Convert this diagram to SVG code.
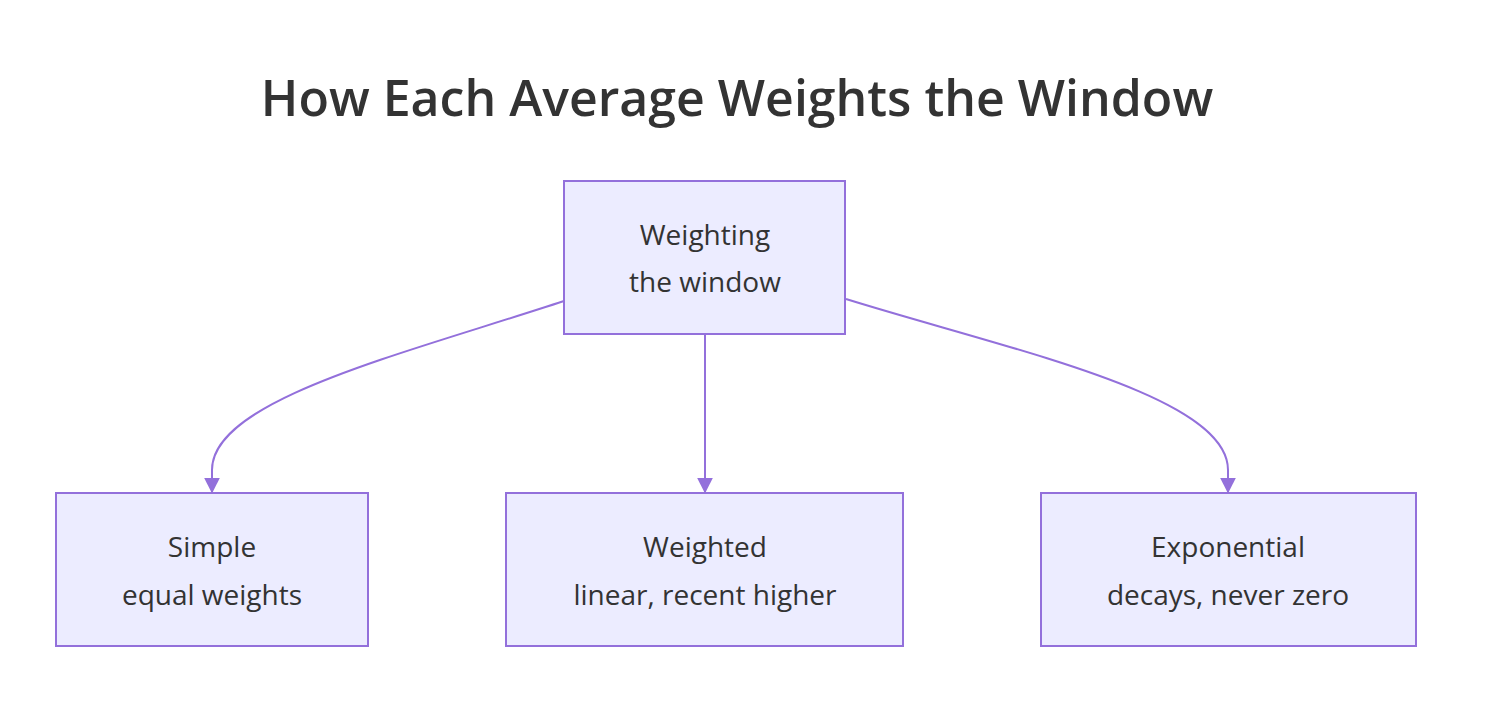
<svg xmlns="http://www.w3.org/2000/svg" width="1488" height="710" viewBox="0 0 1488 710">
<style>
.n{fill:#ECECFF;stroke:#9370DB;stroke-width:2}
.t{font-family:"Open Sans","Liberation Sans",sans-serif;font-size:28px;fill:#333;text-anchor:middle}
.e{fill:none;stroke:#9370DB;stroke-width:2}
</style>
<defs><marker id="a" viewBox="0 0 10 10" refX="9" refY="5" markerWidth="8" markerHeight="8" orient="auto"><path d="M0,0L10,5L0,10z" fill="#9370DB"/></marker></defs>
<rect width="1488" height="710" fill="#fff"/>
<text x="737" y="116" font-family="'Open Sans','Liberation Sans',sans-serif" font-size="50" font-weight="600" fill="#333" text-anchor="middle">How Each Average Weights the Window</text>
<g id="edges">
<path class="e" d="M564,301C400,355 212,400 212,470V492" marker-end="url(#a)"/>
<path class="e" d="M705,334V492" marker-end="url(#a)"/>
<path class="e" d="M846,299C1010,350 1228,395 1228,470V492" marker-end="url(#a)"/>
</g>
<g id="root"><rect class="n" x="564" y="181" width="281" height="153"/><text class="t" x="705" y="245">Weighting</text><text class="t" x="705" y="292">the window</text></g>
<g id="simple"><rect class="n" x="56" y="493" width="312" height="153"/><text class="t" x="212" y="557">Simple</text><text class="t" x="212" y="605">equal weights</text></g>
<g id="weighted"><rect class="n" x="506" y="493" width="397" height="153"/><text class="t" x="705" y="557">Weighted</text><text class="t" x="705" y="605">linear, recent higher</text></g>
<g id="exp"><rect class="n" x="1041" y="493" width="375" height="153"/><text class="t" x="1228" y="557">Exponential</text><text class="t" x="1228" y="605">decays, never zero</text></g>
</svg>
